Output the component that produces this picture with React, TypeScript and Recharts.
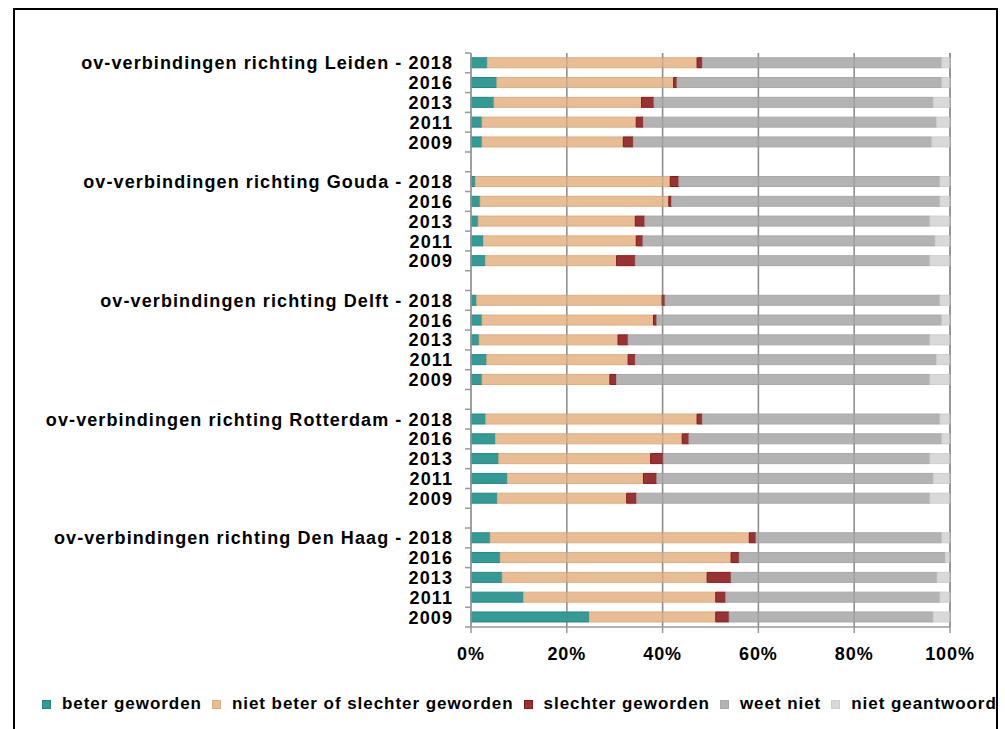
import {
  BarChart, Bar, XAxis, YAxis, CartesianGrid, Legend, ReferenceLine,
} from 'recharts';

const FONT = '"Liberation Sans", Arial, sans-serif';

const GROUPS = ['Leiden', 'Gouda', 'Delft', 'Rotterdam', 'Den Haag'];
const YEARS = ['2018', '2016', '2013', '2011', '2009'];
const X_TICKS = [0, 20, 40, 60, 80, 100];

// values per group (Leiden, Gouda, Delft, Rotterdam, Den Haag), years 2018..2009
const BETER = [
  3.4, 5.4, 4.8, 2.3, 2.3,
  0.9, 1.9, 1.5, 2.6, 3.0,
  1.2, 2.3, 1.7, 3.3, 2.3,
  3.1, 5.1, 5.8, 7.6, 5.5,
  4.0, 6.1, 6.5, 11.0, 24.7,
];
const NIET_BETER = [
  43.8, 36.9, 30.8, 32.2, 29.5,
  40.7, 39.4, 32.8, 31.9, 27.4,
  38.7, 35.8, 29.0, 29.5, 26.7,
  44.1, 39.0, 31.7, 28.4, 27.0,
  54.1, 48.2, 42.8, 40.1, 26.4,
];
const SLECHTER = [
  1.1, 0.7, 2.6, 1.5, 2.1,
  1.8, 0.6, 2.0, 1.4, 3.9,
  0.6, 0.7, 2.1, 1.5, 1.4,
  1.1, 1.4, 2.7, 2.8, 2.1,
  1.4, 1.7, 5.0, 2.1, 2.8,
];
const WEET_NIET = [
  50.0, 55.3, 58.3, 61.2, 62.3,
  54.5, 56.0, 59.5, 61.0, 61.5,
  57.4, 59.5, 63.0, 62.9, 65.4,
  49.6, 52.8, 55.6, 57.7, 61.2,
  38.8, 43.0, 43.0, 44.7, 42.6,
];
const NIET_GEANTWOORD = [
  1.7, 1.7, 3.5, 2.8, 3.8,
  2.1, 2.1, 4.2, 3.1, 4.2,
  2.1, 1.7, 4.2, 2.8, 4.2,
  2.1, 1.7, 4.2, 3.5, 4.2,
  1.7, 1.0, 2.7, 2.1, 3.5,
];

const SERIES = [
  { key: 'beter', name: 'beter geworden', fill: '#339a96', stroke: '#24877f' },
  { key: 'nietBeter', name: 'niet beter of slechter geworden', fill: '#e8bd93', stroke: '#ddae80' },
  { key: 'slechter', name: 'slechter geworden', fill: '#993333', stroke: '#861a1a' },
  { key: 'weetNiet', name: 'weet niet', fill: '#b3b3b3', stroke: '#a8a8a8' },
  { key: 'nietGeantwoord', name: 'niet geantwoord', fill: '#d9d9d9', stroke: '#cdcdcd' },
];

interface Row {
  label: string;
  beter?: number;
  nietBeter?: number;
  slechter?: number;
  weetNiet?: number;
  nietGeantwoord?: number;
}

function buildRows(): Row[] {
  const rows: Row[] = [];
  GROUPS.forEach((g, gi) => {
    if (gi > 0) rows.push({ label: '' });
    YEARS.forEach((y, yi) => {
      const i = gi * YEARS.length + yi;
      rows.push({
        label: yi === 0 ? `ov-verbindingen richting ${g} - ${y}` : y,
        beter: BETER[i],
        nietBeter: NIET_BETER[i],
        slechter: SLECHTER[i],
        weetNiet: WEET_NIET[i],
        nietGeantwoord: NIET_GEANTWOORD[i],
      });
    });
  });
  return rows;
}

const ROWS = buildRows();
const Y_TICK_SIZE = 6;
const Y_TICK_MARGIN = 12;

function CategoryTick(props: any) {
  const { x, y, payload, index } = props;
  const half = payload?.offset || 9.9;
  const lx = x + Y_TICK_MARGIN;
  return (
    <g>
      <line x1={lx} x2={lx + Y_TICK_SIZE} y1={y - half} y2={y - half} stroke="#999" strokeWidth={1.5} />
      {index === ROWS.length - 1 && (
        <line x1={lx} x2={lx + Y_TICK_SIZE} y1={y + half} y2={y + half} stroke="#999" strokeWidth={1.5} />
      )}
      <text
        x={x}
        y={y}
        dy="0.36em"
        textAnchor="end"
        fill="#000"
        style={{ fontFamily: FONT, fontSize: 18, fontWeight: 'bold', letterSpacing: 1.1 }}
      >
        {payload.value}
      </text>
    </g>
  );
}

function LegendContent() {
  return (
    <div style={{ display: 'flex', alignItems: 'center', height: 30, whiteSpace: 'nowrap', fontFamily: FONT, fontWeight: 'bold', fontSize: 17, letterSpacing: 0.95, color: '#000' }}>
      {SERIES.map(s => (
        <div key={s.key} style={{ display: 'flex', alignItems: 'center', flexShrink: 0, marginRight: 10 }}>
          <span style={{ width: 9, height: 9, background: s.fill, border: `1px solid ${s.stroke}`, boxSizing: 'border-box', marginRight: 11 }} />
          <span>{s.name}</span>
        </div>
      ))}
    </div>
  );
}

export default function App() {
  return (
    <div style={{ position: 'absolute', left: 0, top: 0, width: 1005, height: 729, overflow: 'hidden', background: '#fff' }}>
      <div style={{ position: 'absolute', left: 13, top: 8, width: 985, height: 760, border: '2px solid #000', boxSizing: 'border-box' }} />
      <div style={{ position: 'absolute', left: 0, top: 0 }}>
        <BarChart
          width={1005}
          height={729}
          data={ROWS}
          layout="vertical"
          barCategoryGap="24%"
          margin={{ top: 53, right: 55, bottom: 10, left: 0 }}
        >
          <CartesianGrid horizontal={false} vertical stroke="#999" strokeWidth={1.5} />
          <XAxis
            type="number"
            domain={[0, 100]}
            ticks={X_TICKS}
            tickFormatter={v => `${v}%`}
            interval={0}
            height={62}
            tickSize={6}
            tickMargin={14}
            axisLine={{ stroke: '#999', strokeWidth: 1.5 }}
            tickLine={{ stroke: '#999', strokeWidth: 1.5 }}
            tick={{ fill: '#000', fontSize: 18, fontWeight: 'bold', fontFamily: FONT, letterSpacing: 0.9 }}
          />
          <YAxis
            type="category"
            dataKey="label"
            width={471}
            interval={0}
            tickSize={Y_TICK_SIZE}
            tickMargin={Y_TICK_MARGIN}
            tickLine={false}
            axisLine={{ stroke: '#999', strokeWidth: 1.5 }}
            tick={<CategoryTick />}
          />
          <Legend
            verticalAlign="bottom"
            align="left"
            height={30}
            content={<LegendContent />}
            wrapperStyle={{ left: 42, width: 960 }}
          />
          {SERIES.map(s => (
            <Bar
              key={s.key}
              dataKey={s.key}
              name={s.name}
              stackId="a"
              fill={s.fill}
              stroke={s.stroke}
              strokeWidth={1}
              isAnimationActive={false}
            />
          ))}
          {X_TICKS.slice(1).map(t => (
            <ReferenceLine key={t} x={t} stroke="#777" strokeWidth={1.5} strokeOpacity={0.3} />
          ))}
        </BarChart>
      </div>
    </div>
  );
}
